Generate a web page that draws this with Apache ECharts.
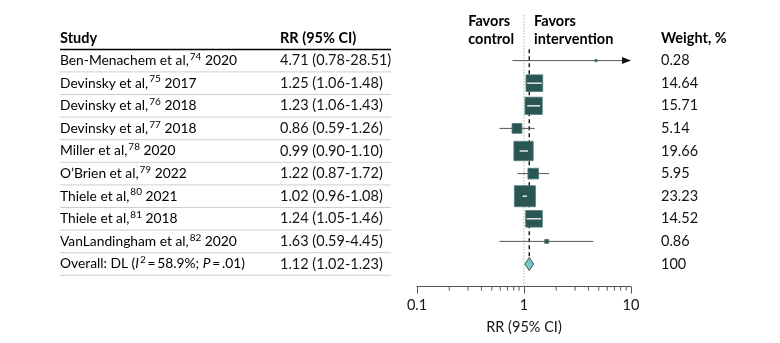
<!DOCTYPE html>
<html>
<head>
<meta charset="utf-8">
<script src="https://cdn.jsdelivr.net/npm/echarts@6/dist/echarts.min.js"></script>
<style>
html,body{margin:0;padding:0;background:#fff;}
#chart{width:780px;height:343px;}
</style>
</head>
<body>
<div id="chart"></div>
<script>
// ---- data ----
var studyNames = ['Ben-Menachem et al,', 'Devinsky et al,', 'Devinsky et al,', 'Devinsky et al,', 'Miller et al,', 'O\u2019Brien et al,', 'Thiele et al,', 'Thiele et al,', 'VanLandingham et al,'];
var studyRefs = ['74', '75', '76', '77', '78', '79', '80', '81', '82'];
var studyYears = ['2020', '2017', '2018', '2018', '2020', '2022', '2021', '2018', '2020'];
var rr = [4.71, 1.25, 1.23, 0.86, 0.99, 1.22, 1.02, 1.24, 1.63];
var ciLow = [0.78, 1.06, 1.06, 0.59, 0.90, 0.87, 0.96, 1.05, 0.59];
var ciHigh = [28.51, 1.48, 1.43, 1.26, 1.10, 1.72, 1.08, 1.46, 4.45];
var weights = [0.28, 14.64, 15.71, 5.14, 19.66, 5.95, 23.23, 14.52, 0.86];
var overallEst = [1.12, 1.02, 1.23];
var overallWeight = '100';
var overallI2 = '58.9%';
var overallP = '.01';
var xTickValues = [0.1, 1, 10];
var xMinorTickValues = [0.2, 0.3, 0.4, 0.5, 0.6, 0.7, 0.8, 0.9, 2, 3, 4, 5, 6, 7, 8, 9];

// ---- style ----
var FONT = 'Lato, "Open Sans", sans-serif';
var FS = 14.5;
var FS_STUDY = 13.8;
var BOX = '#295653';
var BOXEDGE = '#4d7b79';
var TXT = '#141414';
var X_STUDY = 60, X_RR = 280, X_W = 661, X_RULE_END = 391;
var nRows = rr.length + 1;
var overallRow = rr.length;

function fmt(v) { return v.toFixed(2); }

var studyData = rr.map(function (v, i) { return [i, v, ciLow[i], ciHigh[i], weights[i]]; });
var tableData = [];
for (var i = 0; i < nRows; i++) tableData.push([i]);

var chart = echarts.init(document.getElementById('chart'), null, {renderer: 'canvas'});

var textRich = {
  n: {fontFamily: FONT, fontSize: FS_STUDY, color: TXT, lineHeight: 18},
  s: {fontFamily: FONT, fontSize: 10, color: TXT, verticalAlign: 'top', lineHeight: 16, padding: [0, 0, 0, 1]},
  i: {fontFamily: FONT, fontSize: FS_STUDY, color: TXT, fontStyle: 'italic', lineHeight: 18}
};

function renderTable(params, api) {
  var row = api.value(0);
  var y = api.coord([1, row])[1];
  var ySep = api.coord([1, row + 0.5])[1];
  var label, rrText, wText;
  if (row < rr.length) {
    label = '{n|' + studyNames[row] + '}{s|' + studyRefs[row] + '}{n| ' + studyYears[row] + '}';
    rrText = fmt(rr[row]) + ' (' + fmt(ciLow[row]) + '-' + fmt(ciHigh[row]) + ')';
    wText = fmt(weights[row]);
  } else {
    label = '{n|Overall: DL (}{i|I}{s|2}{n|\u2009=\u2009' + overallI2 + '; }{i|P}{n|\u2009=\u2009' + overallP + ')}';
    rrText = fmt(overallEst[0]) + ' (' + fmt(overallEst[1]) + '-' + fmt(overallEst[2]) + ')';
    wText = overallWeight;
  }
  return {
    type: 'group',
    children: [
      {type: 'text', x: X_STUDY, y: y, style: {text: label, rich: textRich, align: 'left', verticalAlign: 'middle'}},
      {type: 'text', x: X_RR, y: y, style: {text: rrText, font: FS + 'px ' + FONT, fill: TXT, align: 'left', verticalAlign: 'middle'}},
      {type: 'text', x: X_W, y: y, style: {text: wText, font: FS + 'px ' + FONT, fill: TXT, align: 'left', verticalAlign: 'middle'}},
      {type: 'line', shape: {x1: X_STUDY, y1: ySep, x2: X_RULE_END, y2: ySep}, style: {stroke: '#cfcfcf', lineWidth: 1}}
    ]
  };
}

function renderStudy(params, api) {
  var row = api.value(0), est = api.value(1), lo = api.value(2), hi = api.value(3), w = api.value(4);
  var xMax = api.coord([10, row])[0];
  var p = api.coord([est, row]);
  var pl = api.coord([lo, row]);
  var ph = api.coord([Math.min(hi, 10), row]);
  var y = p[1];
  var size = 4.36 * Math.sqrt(w);
  var children = [];
  var lineEnd = hi > 10 ? ph[0] - 6 : ph[0];
  children.push({type: 'line', shape: {x1: pl[0], y1: y, x2: lineEnd, y2: y}, style: {stroke: '#555', lineWidth: 1}});
  if (hi > 10) {
    children.push({type: 'polygon', shape: {points: [[xMax, y], [xMax - 9, y - 3.5], [xMax - 9, y + 3.5]]}, style: {fill: '#111'}});
  }
  var bx = p[0] - size / 2;
  children.push({type: 'rect', shape: {x: bx, y: y - size / 2, width: size, height: size}, style: {fill: BOX, stroke: BOXEDGE, lineWidth: 0.8}});
  if (pl[0] >= bx && ph[0] <= bx + size && hi <= 10) {
    children.push({type: 'line', shape: {x1: pl[0] + 0.5, y1: y, x2: ph[0] - 0.5, y2: y}, style: {stroke: '#d9e2e1', lineWidth: 1.6}});
  }
  return {type: 'group', children: children};
}

function renderRefLines(params, api) {
  var top = api.coord([1, -2])[1];
  var bottom = api.coord([1, nRows])[1];
  var x1 = api.coord([1, 0])[0];
  var xo = api.coord([overallEst[0], 0])[0];
  var dTop = api.coord([1, -0.5])[1];
  var dBot = api.coord([1, overallRow])[1];
  return {
    type: 'group',
    children: [
      {type: 'line', shape: {x1: x1, y1: top, x2: x1, y2: bottom}, style: {stroke: '#8a8a8a', lineWidth: 1, lineDash: [1, 2]}},
      {type: 'line', shape: {x1: xo, y1: dTop, x2: xo, y2: dBot}, style: {stroke: '#111', lineWidth: 1.4, lineDash: [4, 3]}}
    ]
  };
}

function renderDiamond(params, api) {
  var row = api.value(0);
  var c = api.coord([api.value(1), row]);
  var l = api.coord([api.value(2), row]);
  var h = api.coord([api.value(3), row]);
  var hh = 6.5;
  return {type: 'polygon', shape: {points: [[l[0], c[1]], [c[0], c[1] - hh], [h[0], c[1]], [c[0], c[1] + hh]]}, style: {fill: '#80c3c2', stroke: '#2d5a58', lineWidth: 1}};
}

function renderMinorTicks(params, api) {
  var p = api.coord([api.value(0), nRows]);
  return {type: 'line', shape: {x1: p[0], y1: p[1], x2: p[0], y2: p[1] + 4}, style: {stroke: '#555', lineWidth: 1}};
}

var option = {
  animation: false,
  backgroundColor: '#fff',
  grid: {left: 417, width: 214, top: 38, height: 248.6},
  xAxis: {
    type: 'log', logBase: 10, min: 0.1, max: 10,
    axisLine: {show: true, onZero: false, lineStyle: {color: '#555', width: 1}},
    axisTick: {show: true, length: 7, inside: false, lineStyle: {color: '#555'}, customValues: xTickValues},
    axisLabel: {color: TXT, fontFamily: FONT, fontSize: FS, margin: 11, customValues: xTickValues,
      formatter: function (v) { return String(Math.round(v * 10) / 10); }},
    splitLine: {show: false},
    name: 'RR (95% CI)', nameLocation: 'middle', nameGap: 33,
    nameTextStyle: {color: TXT, fontFamily: FONT, fontSize: FS}
  },
  yAxis: {type: 'value', inverse: true, min: -1, max: nRows, show: false},
  graphic: [
    {type: 'text', left: X_STUDY, top: 31, style: {text: 'Study', font: 'bold ' + FS + 'px ' + FONT, fill: '#000'}},
    {type: 'text', left: X_RR, top: 31, style: {text: 'RR (95% CI)', font: 'bold ' + FS + 'px ' + FONT, fill: '#000'}},
    {type: 'text', left: X_W, top: 31, style: {text: 'Weight, %', font: 'bold ' + FS + 'px ' + FONT, fill: '#000'}},
    {type: 'text', right: 780 - 514, top: 13, style: {text: 'Favors\ncontrol', font: 'bold ' + FS + 'px ' + FONT, fill: '#000', align: 'right', lineHeight: 17.5}},
    {type: 'text', left: 534, top: 13, style: {text: 'Favors\nintervention', font: 'bold ' + FS + 'px ' + FONT, fill: '#000', lineHeight: 17.5}},
    {type: 'line', shape: {x1: X_STUDY, y1: 49.5, x2: X_RULE_END, y2: 49.5}, style: {stroke: '#000', lineWidth: 1.6}}
  ],
  series: [
    {type: 'custom', name: 'table', renderItem: renderTable, data: tableData, encode: {y: 0}, silent: true, clip: false},
    {type: 'custom', name: 'ref', renderItem: renderRefLines, data: [[0]], encode: {y: 0}, silent: true, clip: false, z: 1},
    {type: 'custom', name: 'studies', renderItem: renderStudy, data: studyData, encode: {x: [1, 2, 3], y: 0}, silent: true, clip: false, z: 3},
    {type: 'custom', name: 'overall', renderItem: renderDiamond, data: [[overallRow, overallEst[0], overallEst[1], overallEst[2]]], encode: {x: [1, 2, 3], y: 0}, silent: true, clip: false, z: 3},
    {type: 'custom', name: 'minorTicks', renderItem: renderMinorTicks, data: xMinorTickValues.map(function (v) { return [v]; }), encode: {x: 0}, silent: true, clip: false}
  ]
};
chart.setOption(option);
</script>
</body>
</html>
